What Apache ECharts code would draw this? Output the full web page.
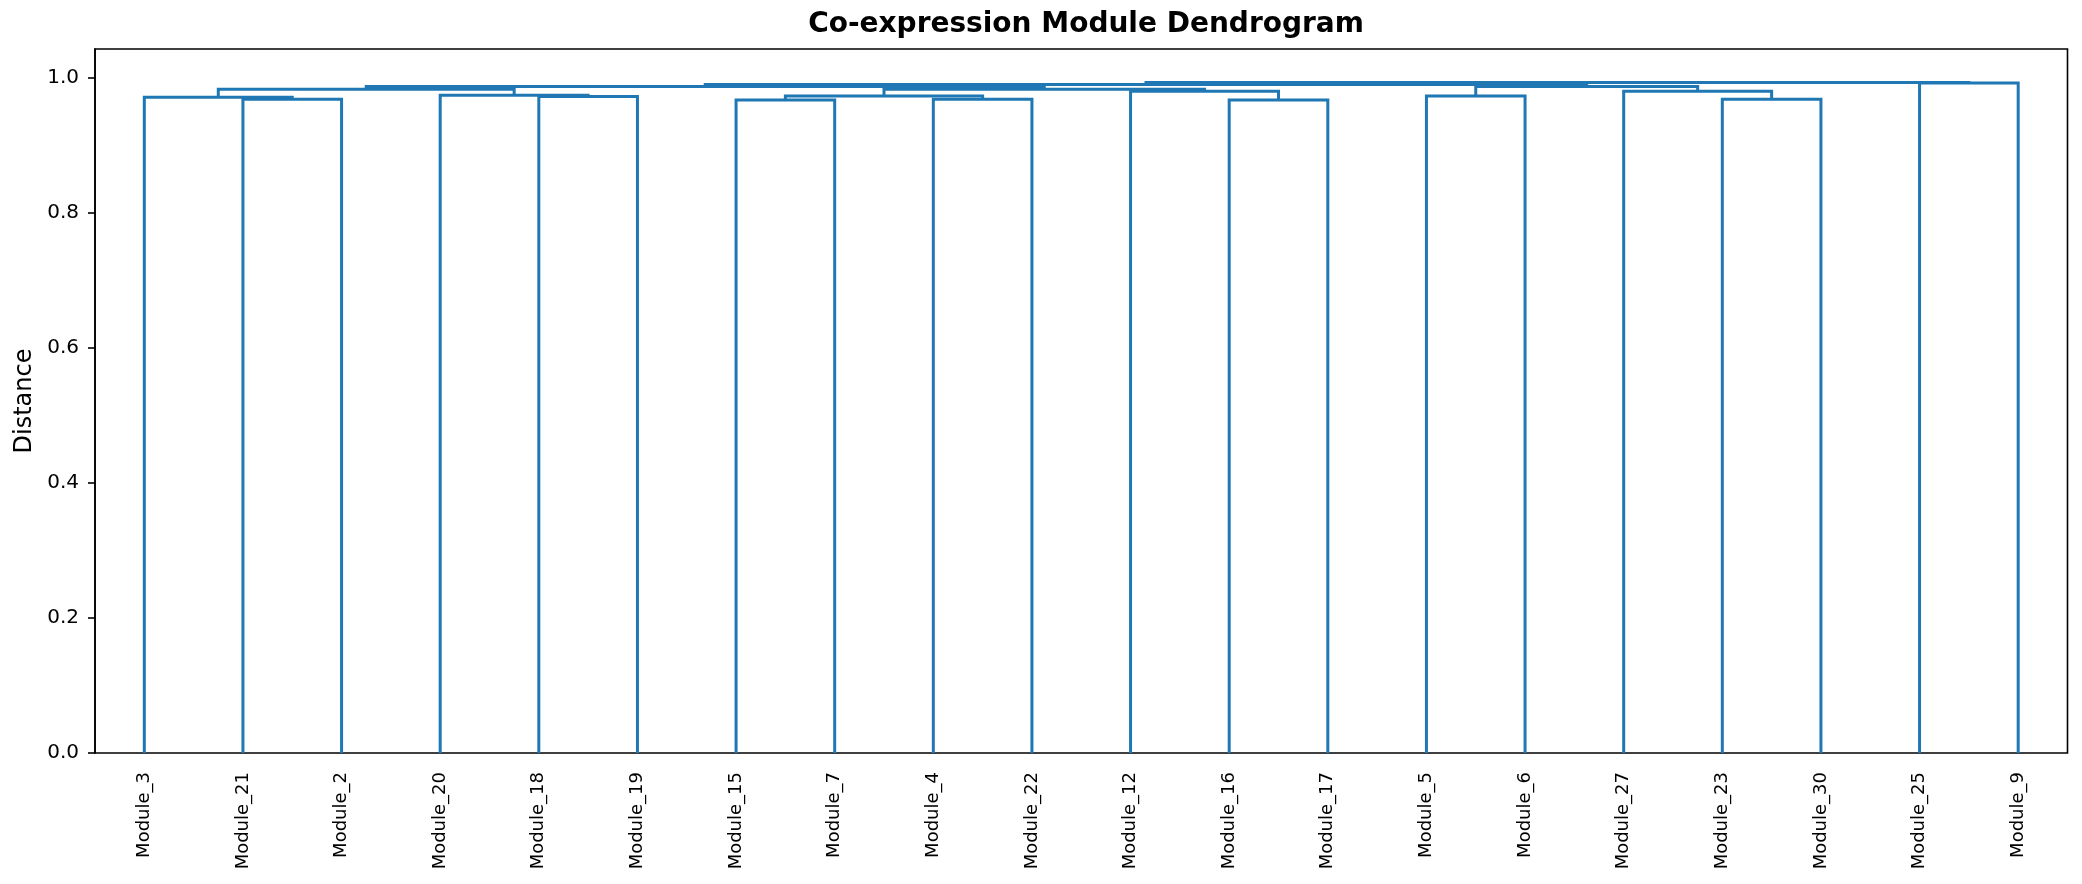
<!DOCTYPE html>
<html>
<head>
<meta charset="utf-8">
<title>Co-expression Module Dendrogram</title>
<script src="https://cdn.jsdelivr.net/npm/echarts@6/dist/echarts.min.js"></script>
<style>
  html, body { margin: 0; padding: 0; background: #fff; }
  #dendro { width: 2082px; height: 884px; }
</style>
</head>
<body>
<div id="dendro"></div>
<script>
// leaves in the order they sit along the x axis
var leaves = ['Module_3', 'Module_21', 'Module_2', 'Module_20', 'Module_18', 'Module_19',
  'Module_15', 'Module_7', 'Module_4', 'Module_22', 'Module_12', 'Module_16', 'Module_17',
  'Module_5', 'Module_6', 'Module_27', 'Module_23', 'Module_30', 'Module_25', 'Module_9'];

// linkage: merge k creates node 20 + k from a left and a right child
var mergeLeft   = [1, 6, 11, 16, 8, 0, 4, 13, 21, 3, 10, 15, 25, 28, 32, 27, 34, 18, 36];
var mergeRight  = [2, 7, 12, 17, 9, 20, 5, 14, 24, 26, 22, 23, 29, 30, 33, 31, 35, 19, 37];
var mergeHeight = [0.968, 0.967, 0.967, 0.968, 0.968, 0.971, 0.972, 0.973, 0.973, 0.974,
  0.980, 0.980, 0.983, 0.983, 0.987, 0.987, 0.990, 0.992, 0.993];

// scipy style: leaf i sits at 10*i + 5 on a 0..200 axis
var nodeX = leaves.map(function (n, i) { return 10 * i + 5; });
var nodeH = leaves.map(function () { return 0; });
var links = [];
for (var k = 0; k < mergeHeight.length; k++) {
  var a = mergeLeft[k], b = mergeRight[k], h = mergeHeight[k];
  links.push([nodeX[a], nodeH[a], nodeX[b], nodeH[b], h]);
  nodeX.push((nodeX[a] + nodeX[b]) / 2);
  nodeH.push(h);
}

var chart = echarts.init(document.getElementById('dendro'));
var font = 'DejaVu Sans';

var option = {
  animation: false,
  title: {
    text: 'Co-expression Module Dendrogram',
    left: 1081,
    top: 6,
    textAlign: 'center',
    textStyle: { fontFamily: font, fontSize: 28, fontWeight: 'bold', color: '#000' }
  },
  grid: {
    left: 95, right: 14.5, top: 49, bottom: 131,
    show: true, borderColor: '#000', borderWidth: 1.6, backgroundColor: '#fff'
  },
  xAxis: [
    {
      type: 'category',
      data: leaves,
      boundaryGap: true,
      axisLine: { show: false },
      axisTick: { show: false },
      axisLabel: {
        rotate: 90, interval: 0, margin: 19,
        fontFamily: font, fontSize: 18, color: '#000'
      },
      splitLine: { show: false }
    },
    {
      type: 'value',
      min: 0, max: 200,
      show: false
    }
  ],
  yAxis: {
    type: 'value',
    min: 0, max: 1.0425, interval: 0.2,
    name: 'Distance',
    nameLocation: 'middle',
    nameGap: 58,
    nameTextStyle: { fontFamily: font, fontSize: 24, color: '#000' },
    axisLine: { show: true, lineStyle: { color: '#000', width: 1.6 } },
    axisTick: { show: true, length: 7, lineStyle: { color: '#000', width: 1.6 } },
    axisLabel: {
      showMaxLabel: false, margin: 16,
      fontFamily: font, fontSize: 20, color: '#000',
      formatter: function (v) { return v.toFixed(1); }
    },
    splitLine: { show: false }
  },
  series: [{
    type: 'custom',
    xAxisIndex: 1,
    yAxisIndex: 0,
    data: links,
    encode: { x: [0, 2], y: [1, 3, 4] },
    renderItem: function (params, api) {
      var p1 = api.coord([api.value(0), api.value(1)]);
      var p2 = api.coord([api.value(0), api.value(4)]);
      var p3 = api.coord([api.value(2), api.value(4)]);
      var p4 = api.coord([api.value(2), api.value(3)]);
      return {
        type: 'polyline',
        shape: { points: [p1, p2, p3, p4] },
        style: { stroke: '#1f77b4', lineWidth: 3, fill: null }
      };
    }
  }]
};

chart.setOption(option);
</script>
</body>
</html>
